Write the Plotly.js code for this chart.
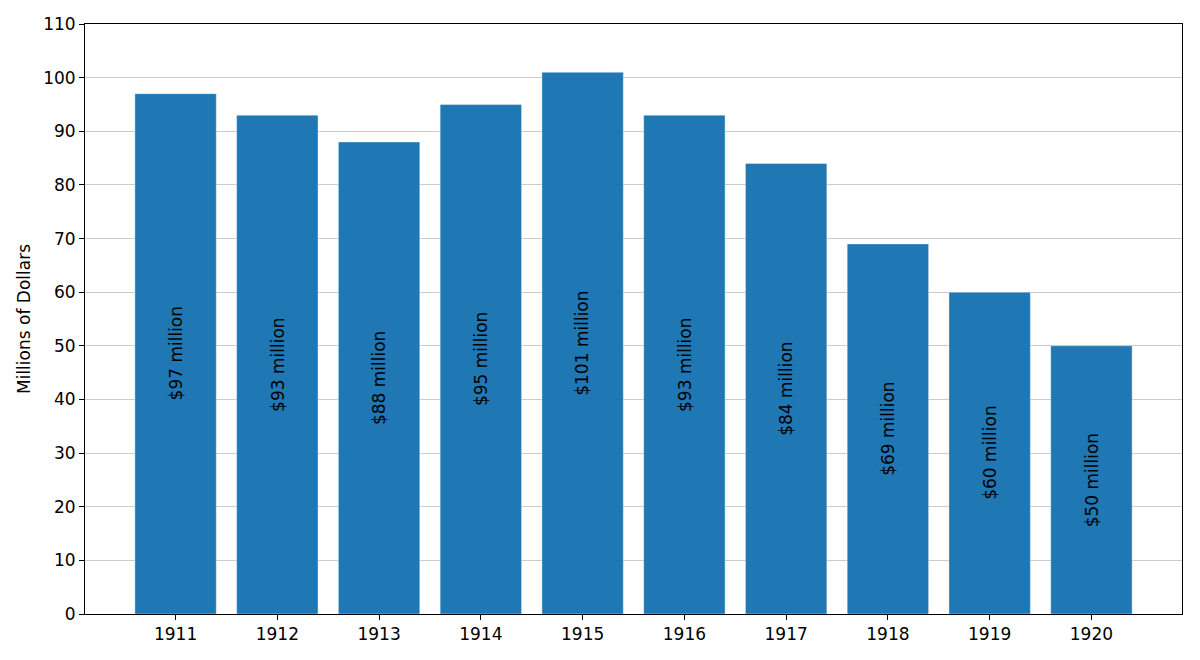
<!DOCTYPE html>
<html>
<head>
<meta charset="utf-8">
<script src="https://cdn.plot.ly/plotly-3.0.1.min.js"></script>
<style>
  html, body { margin: 0; padding: 0; background: #fff; }
  #chart { width: 1200px; height: 660px; }
</style>
</head>
<body>
<div id="chart"></div>
<script>
// Annual values, millions of dollars
const years = ['1911', '1912', '1913', '1914', '1915', '1916', '1917', '1918', '1919', '1920'];
const values = [97, 93, 88, 95, 101, 93, 84, 69, 60, 50];
const labels = values.map(v => `$${v} million`);

const FONT = 'DejaVu Sans, sans-serif';

const trace = {
    type: 'bar',
    x: years,
    y: values,
    width: 0.8,
    marker: { color: '#1f77b4', line: { color: 'rgba(255,255,255,0.4)', width: 1 } },
    hoverinfo: 'skip'
};

// Rotated labels in the middle of each bar (x given as category index)
const annotations = years.map((yr, i) => ({
    x: i,
    y: values[i] / 2,
    xref: 'x',
    yref: 'y',
    text: labels[i],
    textangle: -90,
    showarrow: false,
    font: { family: FONT, size: 17, color: '#000' }
}));

Plotly.newPlot('chart', [trace], {
    width: 1200,
    height: 660,
    paper_bgcolor: '#fff',
    plot_bgcolor: '#fff',
    font: { family: FONT, size: 17, color: '#000' },
    margin: { l: 85, r: 18, t: 24, b: 46 },
    showlegend: false,
    bargap: 0.2,
    xaxis: {
        type: 'category',
        range: [-0.89, 9.89],
        showline: true, mirror: true, linecolor: '#000', linewidth: 1,
        ticks: 'outside', ticklen: 5, tickcolor: '#000',
        showgrid: false, zeroline: false
    },
    yaxis: {
        range: [0, 110],
        dtick: 10,
        showline: true, mirror: true, linecolor: '#000', linewidth: 1,
        ticks: 'outside', ticklen: 5, tickcolor: '#000',
        showgrid: true, gridcolor: '#cccccc', gridwidth: 1,
        zeroline: false,
        title: { text: 'Millions of Dollars', font: { family: FONT, size: 17 }, standoff: 8 }
    },
    annotations: annotations
}, { displayModeBar: false });
</script>
</body>
</html>
